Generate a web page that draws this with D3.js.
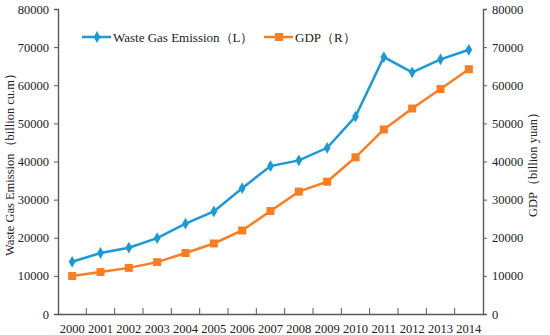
<!DOCTYPE html>
<html>
<head>
<meta charset="utf-8">
<title>Waste Gas Emission and GDP</title>
<script src="https://d3js.org/d3.v7.min.js"></script>
<style>
  body { margin: 0; background: #fff; }
  svg text { font-family: "Liberation Serif", "Times New Roman", serif; fill: #222; }
</style>
</head>
<body>
<svg id="chart" width="550" height="335"></svg>
<script>
// data
var years = ["2000","2001","2002","2003","2004","2005","2006","2007","2008","2009","2010","2011","2012","2013","2014"];
var wasteGas = [13700, 16000, 17400, 19900, 23700, 26900, 33000, 38800, 40300, 43600, 51800, 67400, 63400, 66800, 69300];
var gdp = [9950, 11000, 12100, 13600, 16000, 18500, 21900, 27000, 32100, 34700, 41100, 48400, 53900, 59000, 64200];
var yTicks = [0, 10000, 20000, 30000, 40000, 50000, 60000, 70000, 80000];

var blue = "#1b9ad6", orange = "#fb7d22", axisCol = "#5a5a5a";

var svg = d3.select("#chart");
var pLeft = 58, pRight = 483, pTop = 9, pBottom = 314;

var x = d3.scaleBand().domain(years).range([pLeft, pRight]);
var yL = d3.scaleLinear().domain([0, 80000]).range([pBottom, pTop]);
var yR = d3.scaleLinear().domain([0, 80000]).range([pBottom, pTop]);

//----- axes
var gx = svg.append("g").attr("transform", "translate(0," + pBottom + ")")
  .call(d3.axisBottom(x).tickSize(0).tickPadding(10));
// ticks between categories, pointing up
gx.selectAll(".bound").data(years.slice(1)).enter().append("line")
  .attr("x1", function(d) { return x(d); }).attr("x2", function(d) { return x(d); })
  .attr("y1", 0).attr("y2", -6).attr("stroke", axisCol);

var gl = svg.append("g").attr("transform", "translate(" + pLeft + ",0)")
  .call(d3.axisLeft(yL).tickValues(yTicks).tickFormat(d3.format("d")).tickSize(4).tickPadding(5));
var gr = svg.append("g").attr("transform", "translate(" + pRight + ",0)")
  .call(d3.axisRight(yR).tickValues(yTicks).tickFormat(d3.format("d")).tickSize(4).tickPadding(5));

[gx, gl, gr].forEach(function(g) {
  g.select(".domain").attr("stroke", axisCol).attr("stroke-width", 1.4);
  g.selectAll(".tick line").attr("stroke", axisCol);
  g.selectAll("text").attr("font-size", "12.5px").attr("fill", "#222")
    .attr("font-family", "Liberation Serif, serif");
});

// axis titles
svg.append("text")
  .attr("transform", "translate(14," + ((pTop + pBottom) / 2) + ") rotate(-90)")
  .attr("text-anchor", "middle").attr("font-size", "12.5px")
  .text("Waste Gas Emission（billion cu.m）");
svg.append("text")
  .attr("transform", "translate(537," + ((pTop + pBottom) / 2) + ") rotate(-90)")
  .attr("text-anchor", "middle").attr("font-size", "12.5px")
  .text("GDP（billion yuan）");

//----- lines
var cx = function(d, i) { return x(years[i]) + x.bandwidth() / 2; };
var lineL = d3.line().x(cx).y(function(d) { return yL(d); });
var lineR = d3.line().x(cx).y(function(d) { return yR(d); });

svg.append("path").datum(wasteGas).attr("d", lineL)
  .attr("fill", "none").attr("stroke", blue).attr("stroke-width", 2.5);
svg.append("path").datum(gdp).attr("d", lineR)
  .attr("fill", "none").attr("stroke", orange).attr("stroke-width", 2.5);

var diamond = d3.symbol().type(d3.symbolDiamond).size(40);
svg.selectAll(".mL").data(wasteGas).enter().append("path")
  .attr("d", diamond)
  .attr("transform", function(d, i) { return "translate(" + cx(d, i) + "," + yL(d) + ")"; })
  .attr("fill", blue);
svg.selectAll(".mR").data(gdp).enter().append("rect")
  .attr("x", function(d, i) { return cx(d, i) - 4; })
  .attr("y", function(d) { return yR(d) - 4; })
  .attr("width", 8).attr("height", 8).attr("fill", orange);

//----- legend
var legend = [
  { name: "Waste Gas Emission（L）", color: blue, x: 82, shape: "d" },
  { name: "GDP（R）", color: orange, x: 264, shape: "s" }
];
legend.forEach(function(l) {
  var g = svg.append("g").attr("transform", "translate(" + l.x + ",37)");
  g.append("line").attr("x1", 0).attr("x2", 29).attr("stroke", l.color).attr("stroke-width", 2.5);
  if (l.shape == "d") g.append("path").attr("d", diamond).attr("transform", "translate(15,0)").attr("fill", l.color);
  else g.append("rect").attr("x", 11).attr("y", -4).attr("width", 8).attr("height", 8).attr("fill", l.color);
  g.append("text").attr("x", 31).attr("y", 4.5).attr("font-size", "13px").text(l.name);
});
</script>
</body>
</html>
